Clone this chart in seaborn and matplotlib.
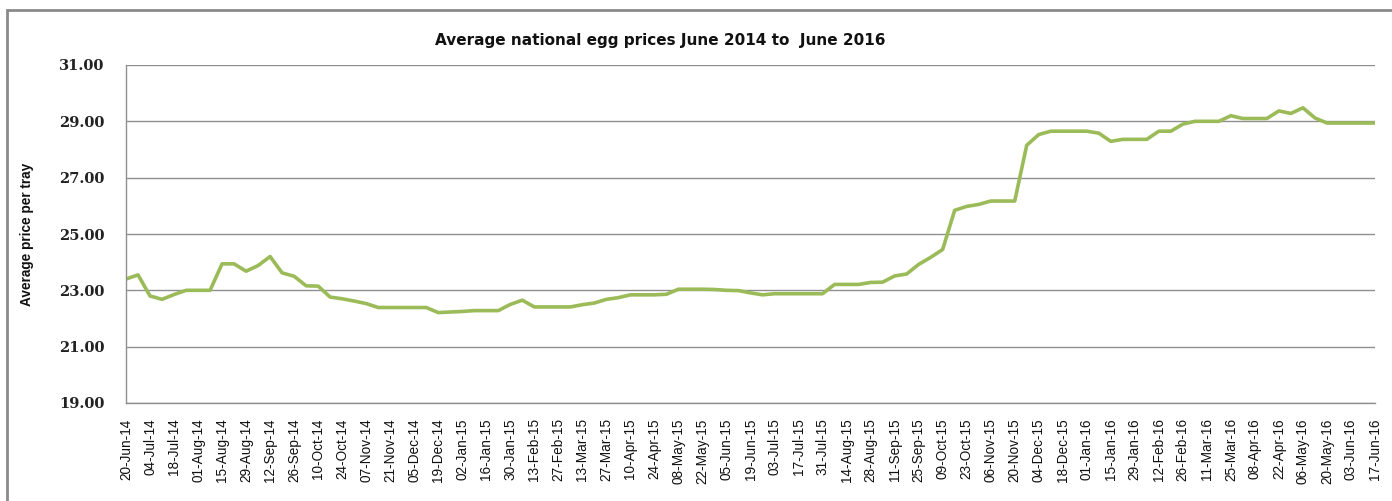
import matplotlib
matplotlib.use("Agg")
import matplotlib.pyplot as plt
import matplotlib.patches as mpatches
import numpy as np
import pandas as pd
import seaborn as sns

# ---- data (weekly prices, 20-Jun-2014 .. 17-Jun-2016) ----
prices = [
    23.40, 23.55, 22.80, 22.68, 22.85, 23.00, 23.00, 23.00, 23.94, 23.94,
    23.68, 23.88, 24.20, 23.62, 23.50, 23.16, 23.15, 22.76, 22.70, 22.62,
    22.53, 22.39, 22.39, 22.39, 22.39, 22.39, 22.21, 22.23, 22.25, 22.28,
    22.28, 22.28, 22.50, 22.65, 22.41, 22.41, 22.41, 22.41, 22.49, 22.55,
    22.68, 22.74, 22.84, 22.84, 22.84, 22.86, 23.04, 23.04, 23.04, 23.03,
    23.00, 22.99, 22.91, 22.84, 22.88, 22.88, 22.88, 22.88, 22.88, 23.21,
    23.21, 23.21, 23.28, 23.29, 23.51, 23.58, 23.92, 24.17, 24.45, 25.84,
    25.98, 26.05, 26.17, 26.17, 26.17, 28.15, 28.53, 28.65, 28.65, 28.65,
    28.65, 28.58, 28.29, 28.36, 28.36, 28.36, 28.65, 28.65, 28.90, 29.00,
    29.00, 29.00, 29.20, 29.10, 29.10, 29.10, 29.37, 29.28, 29.48, 29.12,
    28.94, 28.94, 28.94, 28.94, 28.94,
]

tick_labels = [
    "20-Jun-14", "04-Jul-14", "18-Jul-14", "01-Aug-14", "15-Aug-14", "29-Aug-14",
    "12-Sep-14", "26-Sep-14", "10-Oct-14", "24-Oct-14", "07-Nov-14", "21-Nov-14",
    "05-Dec-14", "19-Dec-14", "02-Jan-15", "16-Jan-15", "30-Jan-15", "13-Feb-15",
    "27-Feb-15", "13-Mar-15", "27-Mar-15", "10-Apr-15", "24-Apr-15", "08-May-15",
    "22-May-15", "05-Jun-15", "19-Jun-15", "03-Jul-15", "17-Jul-15", "31-Jul-15",
    "14-Aug-15", "28-Aug-15", "11-Sep-15", "25-Sep-15", "09-Oct-15", "23-Oct-15",
    "06-Nov-15", "20-Nov-15", "04-Dec-15", "18-Dec-15", "01-Jan-16", "15-Jan-16",
    "29-Jan-16", "12-Feb-16", "26-Feb-16", "11-Mar-16", "25-Mar-16", "08-Apr-16",
    "22-Apr-16", "06-May-16", "20-May-16", "03-Jun-16", "17-Jun-16",
]

y_ticks = [19, 21, 23, 25, 27, 29, 31]

title = "Average national egg prices June 2014 to  June 2016"
y_label = "Average price per tray"

# ---- plotting ----
sns.set_style("white")
sans = ["Liberation Sans", "DejaVu Sans"]

df = pd.DataFrame({"week": np.arange(len(prices)), "price": prices})

fig = plt.figure(figsize=(13.92, 5.01), dpi=100)
ax = fig.add_axes([126 / 1392, 1 - 403 / 501, (1375 - 126) / 1392, (403 - 65) / 501])

sns.lineplot(data=df, x="week", y="price", color="#9BBB59", linewidth=2.6, ax=ax)

ax.set_xlim(0, len(prices) - 1)
ax.set_ylim(19, 31)
ax.set_yticks(y_ticks)
ax.set_yticklabels([f"{v:.2f}" for v in y_ticks], family="DejaVu Serif",
                   fontweight="bold", fontsize=10.5, color="#222222")
ax.set_xticks(np.arange(0, len(prices), 2))
ax.set_xticklabels(tick_labels, rotation=90, family=sans, fontsize=9.8,
                   color="#111111")
ax.tick_params(axis="x", length=0, pad=11)
ax.tick_params(axis="y", length=0, pad=15.5)

ax.grid(axis="y", color="#8f8f8f", linewidth=1.0)
ax.grid(axis="x", visible=False)
for s in ["top", "right"]:
    ax.spines[s].set_visible(False)
for s in ["left", "bottom"]:
    ax.spines[s].set_color("#8f8f8f")
    ax.spines[s].set_linewidth(1.0)

ax.set_xlabel("")
ax.set_ylabel(y_label, family=sans, fontweight="bold", fontsize=9.8,
              color="#111111")
ax.yaxis.set_label_coords((34 - 126) / 1249, 0.5)

fig.text(660 / 1392, 1 - 40 / 501, title, ha="center", va="center",
         family=["DejaVu Sans"], fontweight="bold", fontsize=11.0,
         color="#111111")

# chart-area border (cropped at right and bottom)
border = mpatches.Rectangle((7 / 1392, -0.2), 1.2, 1.2 - 10 / 501,
                            transform=fig.transFigure, fill=False,
                            edgecolor="#8a8a8a", linewidth=2.0)
fig.patches.append(border)

fig.savefig("out.png", dpi=100)
